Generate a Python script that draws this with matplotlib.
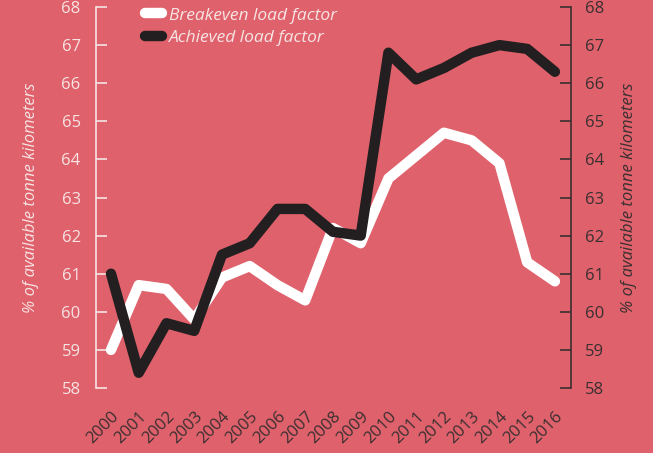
import matplotlib
matplotlib.use("Agg")
import matplotlib.pyplot as plt

years = list(range(2000, 2017))
breakeven = [59.0, 60.7, 60.6, 59.8, 60.9, 61.2, 60.7, 60.3, 62.2, 61.8,
             63.5, 64.1, 64.7, 64.5, 63.9, 61.3, 60.8]
achieved = [61.0, 58.4, 59.7, 59.5, 61.5, 61.8, 62.7, 62.7, 62.1, 62.0,
            66.8, 66.1, 66.4, 66.8, 67.0, 66.9, 66.3]
yticks = list(range(58, 69))
ylabel = "% of available tonne kilometers"

bg = "#df616b"
light = "#f7e4e4"
dark = "#3a2f31"
plt.rcParams['font.family'] = ['Open Sans', 'DejaVu Sans']

fig = plt.figure(figsize=(6.53, 4.53), dpi=100, facecolor=bg)
ax = fig.add_axes([96/653, 1-388/453, (571-96)/653, (388-7)/453])
ax.set_facecolor(bg)
ax.plot(years, breakeven, color="white", lw=7.5, solid_capstyle="round",
        solid_joinstyle="round", label="Breakeven load factor", zorder=3)
ax.plot(years, achieved, color="#231f20", lw=7.5, solid_capstyle="round",
        solid_joinstyle="round", label="Achieved load factor", zorder=4)
ax.set_ylim(58, 68)
ax.set_xlim(1999.46, 2016.58)
ax.set_yticks(yticks)
ax.set_xticks(years)
ax.set_xticklabels([str(y) for y in years], rotation=45, ha="right",
                   va="top", rotation_mode="anchor", color=dark, fontsize=12)
ax.tick_params(axis="x", length=0, pad=15)
ax.tick_params(axis="y", direction="in", length=8, width=1.2, color=light,
               labelcolor=light, labelsize=12, pad=11)
for s in ["top", "right", "bottom"]:
    ax.spines[s].set_visible(False)
ax.spines["left"].set_color(light)
ax.spines["left"].set_linewidth(1.2)
ax.set_ylabel(ylabel, color=light, fontstyle="italic", fontsize=12, labelpad=16)

ax2 = ax.twinx()
ax2.set_ylim(58, 68)
ax2.set_yticks(yticks)
for s in ["top", "left", "bottom"]:
    ax2.spines[s].set_visible(False)
ax2.spines["right"].set_color(dark)
ax2.spines["right"].set_linewidth(1.2)
ax2.tick_params(axis="y", direction="in", length=8, width=1.2, color=dark,
                labelcolor=dark, labelsize=12, pad=10)
ax2.set_ylabel(ylabel, color=dark, fontstyle="italic", fontsize=12,
               rotation=90, labelpad=12)

leg = ax.legend(loc="upper left", bbox_to_anchor=(0.07, 1.04), frameon=False,
                fontsize=12.5, handlelength=1.0, handletextpad=0.4,
                labelspacing=0.35)
for t in leg.get_texts():
    t.set_color(light)
    t.set_fontstyle("italic")

fig.savefig("out.png", dpi=100, facecolor=bg)
